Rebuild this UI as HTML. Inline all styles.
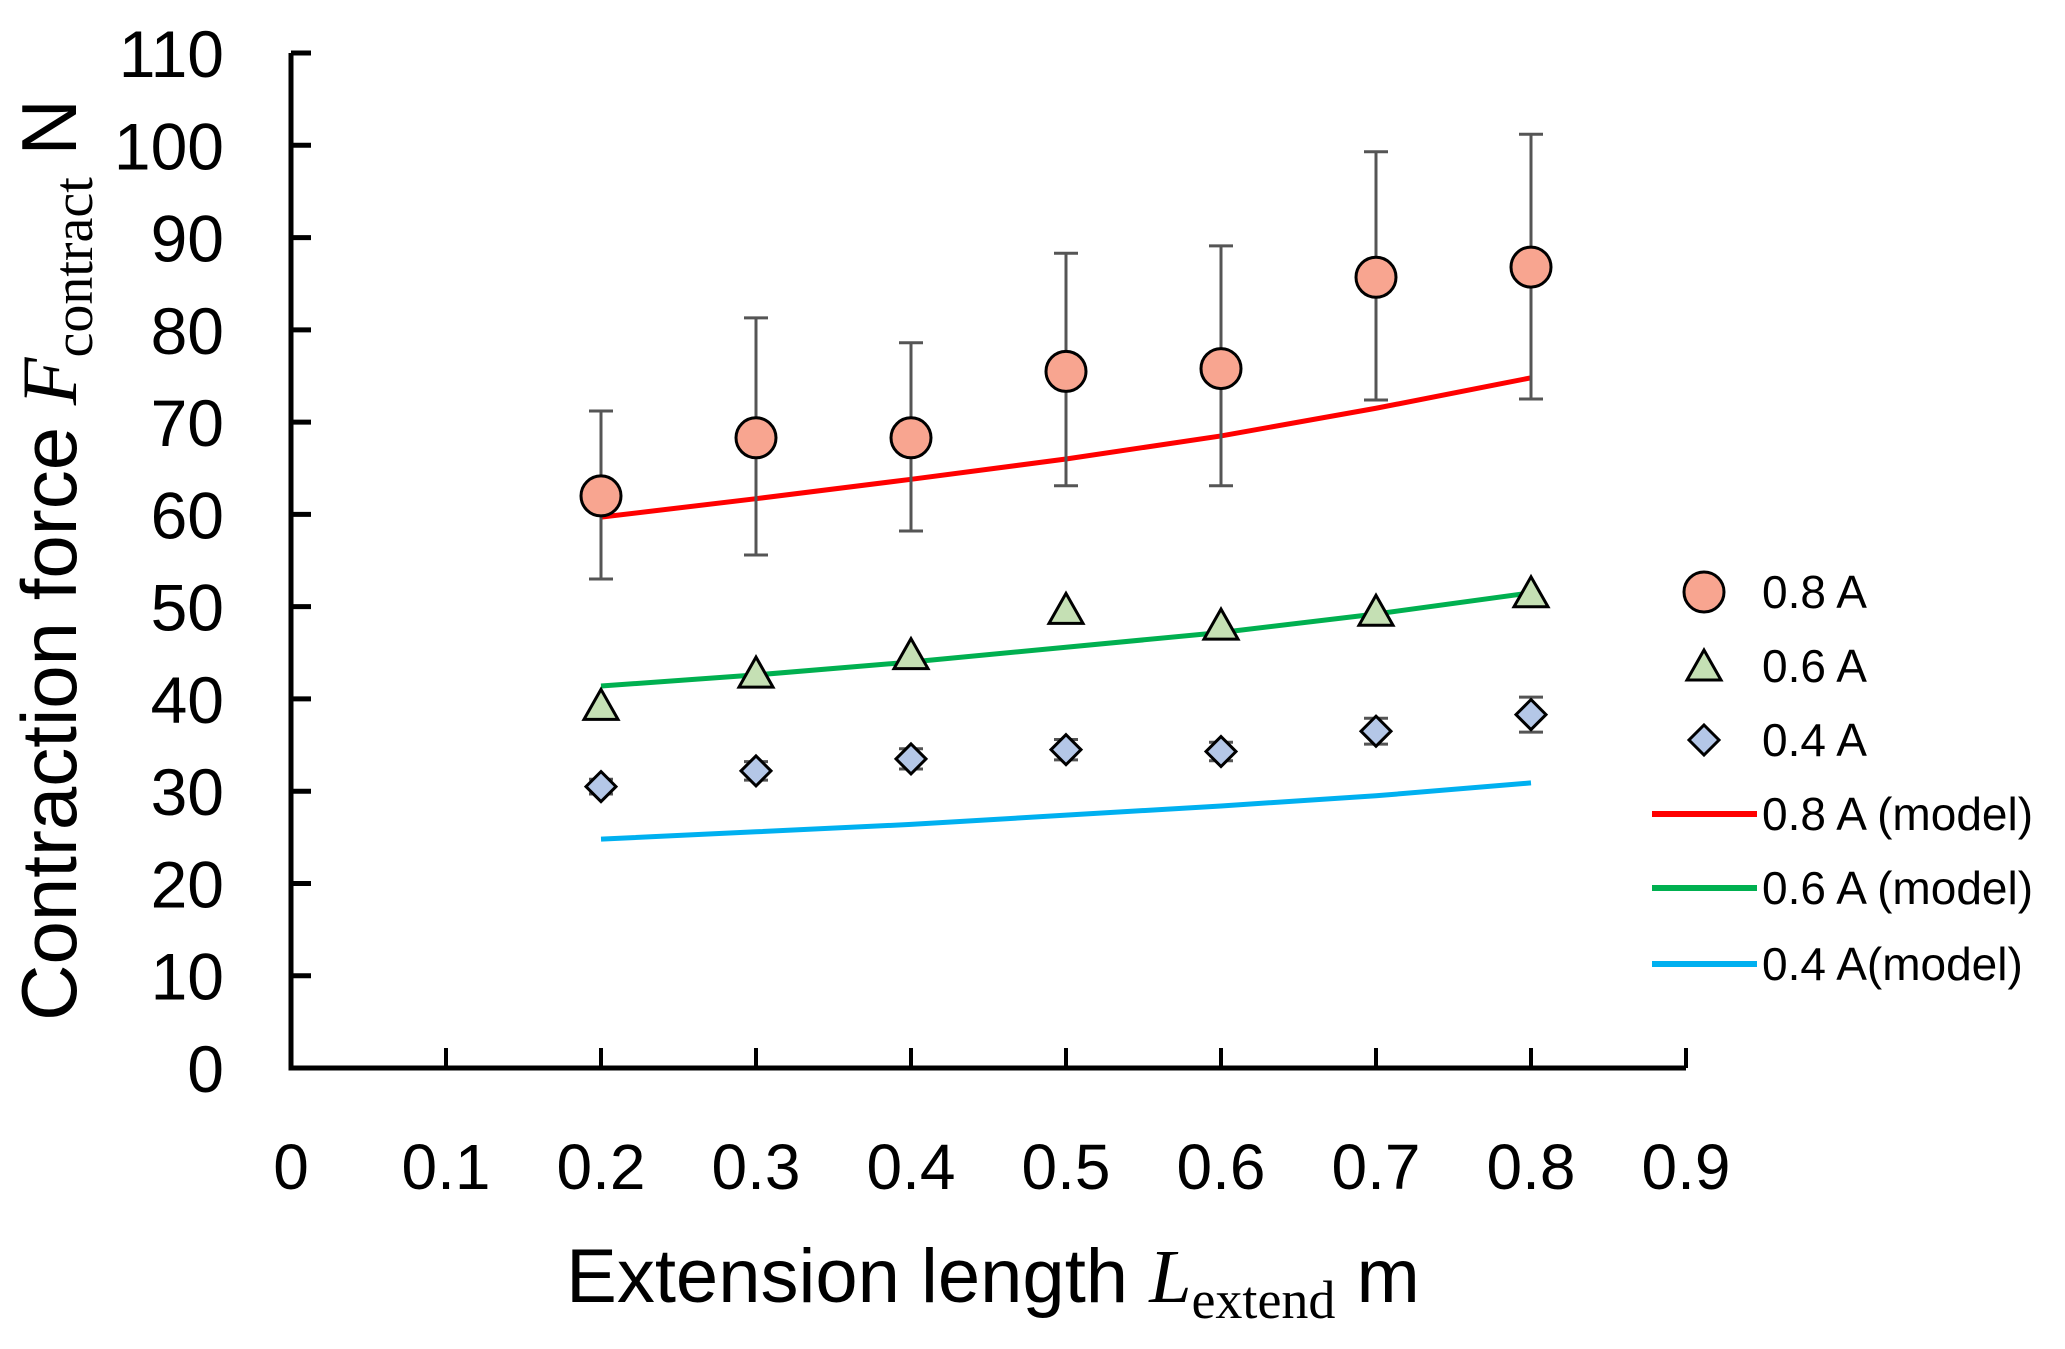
<!DOCTYPE html>
<html><head><meta charset="utf-8"><style>
html,body{margin:0;padding:0;background:#fff}
svg{display:block}
text{font-family:"Liberation Sans",sans-serif;fill:#000}
</style></head><body>
<svg id="chart" width="2065" height="1349" viewBox="0 0 2065 1349" xmlns="http://www.w3.org/2000/svg">
<g id="axes"></g>
<g id="series"></g>
<g id="legend"></g>
<text x="993" y="1302" text-anchor="middle" font-size="76">Extension length  <tspan font-family="Liberation Serif" font-style="italic">L</tspan><tspan font-family="Liberation Serif" font-size="54" dy="16">extend</tspan><tspan dy="-16">  m</tspan></text>
<text transform="translate(76,560) rotate(-90)" text-anchor="middle" font-size="78">Contraction force  <tspan font-family="Liberation Serif" font-style="italic">F</tspan><tspan font-family="Liberation Serif" font-size="56" dy="16">contract</tspan><tspan dy="-16">  N</tspan></text>
</svg>
<script>
const xCats=[0.2,0.3,0.4,0.5,0.6,0.7,0.8];
const xTicks=[0,0.1,0.2,0.3,0.4,0.5,0.6,0.7,0.8,0.9];
const xTickLabels=["0","0.1","0.2","0.3","0.4","0.5","0.6","0.7","0.8","0.9"];
const yTicks=[0,10,20,30,40,50,60,70,80,90,100,110];
const s08=[62,68.3,68.3,75.5,75.8,85.7,86.8];
const s08Hi=[71.2,81.3,78.6,88.3,89.1,99.3,101.2];
const s08Lo=[53,55.6,58.2,63.1,63.1,72.4,72.5];
const s06=[39.3,42.8,44.8,49.7,48,49.5,51.5];
const s04=[30.5,32.2,33.5,34.5,34.3,36.5,38.3];
const s04Hi=[31.3,33.2,34.6,35.6,35.3,37.9,40.2];
const s04Lo=[29.7,31.2,32.4,33.4,33.3,35.1,36.4];
const m08=[59.7,61.7,63.8,66,68.5,71.5,74.8];
const m06=[41.4,42.6,44,45.6,47.2,49.2,51.5];
const m04=[24.8,25.6,26.4,27.4,28.4,29.5,30.9];

const NS="http://www.w3.org/2000/svg";
const X=v=>291+v/0.1*155.0;
const Y=v=>1068-v/10*92.27;
function mk(tag,attrs,parent){const e=document.createElementNS(NS,tag);for(const k in attrs)e.setAttribute(k,attrs[k]);parent.appendChild(e);return e;}
const axes=document.getElementById('axes'),ser=document.getElementById('series'),leg=document.getElementById('legend');

let a=mk('path',{d:`M${X(0)} ${Y(110)} V${Y(0)} H${X(0.9)}`,fill:'none',stroke:'#000','stroke-width':5},axes);


yTicks.forEach(v=>{
  const t=mk('line',{x1:X(0),x2:X(0)+20,y1:Y(v),y2:Y(v),stroke:'#000','stroke-width':5},axes);
  
  
  const l=mk('text',{x:224,y:Y(v)+24,'text-anchor':'end','font-size':66},axes);
  l.textContent=v;
  
  
});
xTicks.forEach((v,i)=>{
  const t=mk('line',{x1:X(v),x2:X(v),y1:Y(0),y2:Y(0)-20,stroke:'#000','stroke-width':4},axes);
  
  
  const l=mk('text',{x:X(v),y:1189,'text-anchor':'middle','font-size':64},axes);
  l.textContent=xTickLabels[i];
  
  
});
function line(arr,color,name){
  const p=mk('polyline',{points:xCats.map((x,i)=>X(x)+','+Y(arr[i])).join(' '),fill:'none',stroke:color,'stroke-width':5},ser);
  
  
}
function err(hi,lo,name){
  xCats.forEach((x,i)=>{
    const g=mk('path',{d:`M${X(x)-12} ${Y(hi[i])} H${X(x)+12} M${X(x)} ${Y(hi[i])} V${Y(lo[i])} M${X(x)-12} ${Y(lo[i])} H${X(x)+12}`,stroke:'#555',fill:'none','stroke-width':3},ser);
    
    
  });
}
line(m08,'#ff0000','model-line-0.8a');
line(m06,'#00b050','model-line-0.6a');
line(m04,'#00b0f0','model-line-0.4a');
err(s08Hi,s08Lo,'error-bar-0.8a');
err(s04Hi,s04Lo,'error-bar-0.4a');
function circle(cx,cy,parent,name){const c=mk('circle',{cx,cy,r:20,fill:'#f8a590',stroke:'#000','stroke-width':3},parent);}
function tri(cx,cy,parent,name){const c=mk('polygon',{points:`${cx},${cy-16} ${cx-17},${cy+14} ${cx+17},${cy+14}`,fill:'#c5e0b4',stroke:'#000','stroke-width':3},parent);}
function dia(cx,cy,parent,name){const c=mk('polygon',{points:`${cx},${cy-15} ${cx+15},${cy} ${cx},${cy+15} ${cx-15},${cy}`,fill:'#b4c7e7',stroke:'#000','stroke-width':3},parent);}
xCats.forEach((x,i)=>{
  circle(X(x),Y(s08[i]),ser,'point-0.8a');
  tri(X(x),Y(s06[i]),ser,'point-0.6a');
  dia(X(x),Y(s04[i]),ser,'point-0.4a');
});
const legLabels=["0.8 A","0.6 A","0.4 A","0.8 A (model)","0.6 A (model)","0.4 A(model)"];
const legY=[592,666,740,814,888,964];
const mx=1704;
circle(mx,legY[0],leg,'legend-marker-0.8a');
tri(mx,legY[1],leg,'legend-marker-0.6a');
dia(mx,legY[2],leg,'legend-marker-0.4a');
['#ff0000','#00b050','#00b0f0'].forEach((c,i)=>{
  const l=mk('line',{x1:1652,x2:1757,y1:legY[3+i],y2:legY[3+i],stroke:c,'stroke-width':6},leg);
  
  
});
legLabels.forEach((t,i)=>{
  const e=mk('text',{x:1762,y:legY[i]+16,'font-size':46},leg);
  e.textContent=t;
  
  
});
</script>
</body></html>
